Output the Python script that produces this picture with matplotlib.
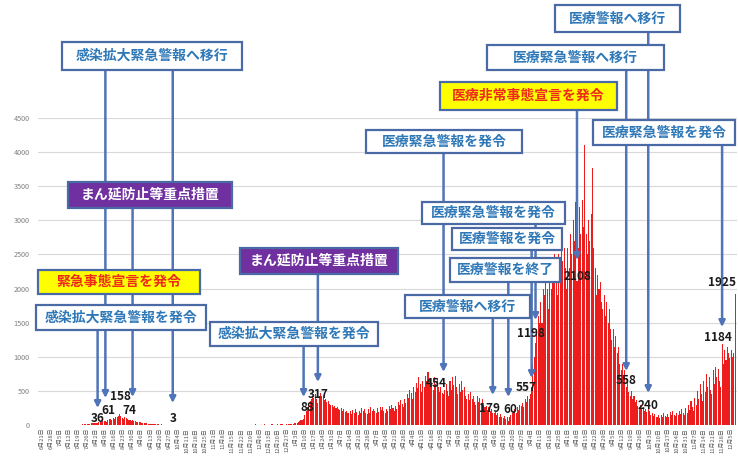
import numpy as np
import pandas as pd
import matplotlib.pyplot as plt
from matplotlib.patches import Rectangle
from matplotlib.transforms import blended_transform_factory

plt.rcParams['font.family'] = ['Noto Sans CJK JP', 'DejaVu Sans']

# daily new cases, 2020-06-21 .. 2020-12-31
cases_2020 = [
    0, 0, 1, 0, 0, 0, 0,
    0, 0, 0, 0, 0, 1, 0,
    0, 1, 0, 0, 2, 0, 1,
    0, 0, 3, 1, 2, 0, 4,
    2, 5, 3, 8, 6, 10, 12,
    15, 9, 18, 22, 25, 30, 28,
    30, 36, 45, 38, 50, 58, 55,
    61, 48, 70, 85, 95, 80, 100,
    90, 120, 110, 135, 158, 125, 105,
    95, 110, 100, 88, 80, 70, 65,
    74, 55, 60, 45, 50, 38, 40,
    30, 35, 25, 28, 22, 20, 18,
    15, 18, 12, 14, 10, 9, 8,
    7, 8, 6, 5, 6, 4, 5,
    4, 3, 5, 3, 2, 4, 3,
    2, 1, 3, 2, 0, 1, 2,
    1, 0, 2, 1, 1, 0, 3,
    2, 1, 0, 1, 2, 1, 0,
    1, 2, 1, 0, 3, 1, 2,
    0, 1, 2, 1, 0, 2, 1,
    2, 0, 1, 3, 1, 2, 0,
    1, 2, 0, 1, 2, 4, 1,
    3, 2, 5, 3, 4, 6, 2,
    4, 3, 6, 5, 8, 4, 3,
    5, 7, 4, 6, 9, 5, 4,
    6, 4, 8, 10, 7, 5, 6,
    8, 5, 9, 12, 10, 7, 6,
    9, 12, 15, 10, 14,
]

# daily new cases, 2021-01-01 .. 2021-12-08
cases_2021 = [
    18, 22,
    25, 30, 40, 55, 70, 80, 88,
    150, 210, 260, 300, 350, 380, 420,
    400, 450, 380, 317, 420, 470, 430,
    400, 360, 380, 340, 350, 310, 290,
    300, 260, 280, 250, 270, 230, 220,
    250, 200, 230, 190, 210, 180, 170,
    200, 160, 220, 180, 240, 190, 150,
    210, 170, 250, 200, 230, 180, 160,
    230, 180, 260, 210, 240, 200, 170,
    250, 190, 270, 220, 260, 210, 180,
    240, 200, 280, 230, 300, 250, 200,
    280, 240, 330, 300, 360, 310, 260,
    380, 320, 450, 400, 520, 470, 380,
    560, 480, 620, 540, 700, 600, 480,
    650, 560, 720, 640, 780, 680, 560,
    620, 520, 700, 600, 680, 560, 480,
    560, 470, 454, 520, 600, 500, 420,
    650, 520, 700, 580, 720, 560, 450,
    600, 480, 650, 520, 560, 430, 380,
    450, 360, 480, 380, 420, 330, 290,
    420, 330, 400, 320, 380, 300, 260,
    280, 220, 260, 200, 240, 179, 170,
    190, 140, 170, 120, 160, 110, 100,
    130, 90, 110, 60, 120, 150, 170,
    200, 240, 180, 260, 220, 300, 280,
    320, 260, 380, 340, 420, 380, 450,
    557, 900, 1000, 1198, 1400, 1600, 1500,
    1800, 1500, 2000, 1900, 2200, 2000, 1700,
    2300, 2000, 2400, 2200, 2500, 2100, 1900,
    2500, 2200, 2700, 2400, 2600, 2300, 2000,
    2600, 2300, 2800, 2500, 3000, 2700, 3270,
    2108, 2600, 3200, 2800, 3300, 2900, 4100,
    2800, 2500, 3000, 2700, 3100, 3770, 2600,
    2300, 1900, 2200, 2000, 2100, 1800, 1700,
    1900, 1600, 1800, 1500, 1700, 1400, 1250,
    1400, 1150, 1300, 1050, 1150, 900, 800,
    900, 700, 800, 558, 650, 480, 420,
    500, 380, 420, 330, 360, 280, 250,
    300, 230, 270, 200, 240, 190, 240,
    200, 150, 180, 130, 160, 120, 110,
    140, 100, 150, 120, 170, 130, 110,
    160, 120, 190, 140, 200, 150, 130,
    180, 140, 210, 160, 230, 170, 150,
    250, 180, 300, 220, 350, 260, 200,
    400, 300, 500, 380, 600, 450, 350,
    650, 480, 750, 550, 700, 520, 450,
    800, 600, 850, 700, 820, 650, 560,
    1184, 900, 1100, 950, 1150, 1050, 980,
    1100, 1000, 1050, 1925,
]

# announcements: date the measure took effect and its name
event_dates = ['2020-08-03', '2020-08-09', '2020-08-30', '2020-09-30',
               '2021-01-09', '2021-01-20', '2021-04-27', '2021-06-04',
               '2021-06-16', '2021-07-04', '2021-07-07', '2021-08-08',
               '2021-09-15', '2021-10-02', '2021-11-28']
event_names = ['感染拡大緊急警報を発令', '緊急事態宣言を発令', 'まん延防止等重点措置',
               '感染拡大緊急警報へ移行', '感染拡大緊急警報を発令', 'まん延防止等重点措置',
               '医療緊急警報を発令', '医療警報へ移行', '医療警報を終了', '医療警報を発令',
               '医療緊急警報を発令', '医療非常事態宣言を発令', '医療緊急警報へ移行',
               '医療警報へ移行', '医療緊急警報を発令']
# extra value labels without an arrow
peak_dates = ['2020-08-20', '2021-12-08']

cases = np.array(cases_2020 + cases_2021)
dates = pd.date_range('2020-06-21', periods=len(cases), freq='D')
days = np.arange(len(cases))

W, H = 738, 469


def fx(px):
    return px / W


def fy(py):
    return 1 - py / H


fig = plt.figure(figsize=(W / 100, H / 100), dpi=100)
ax = fig.add_axes([fx(38), fy(425), fx(737) - fx(38), fy(118) - fy(425)])

ax.bar(days, cases, width=0.8, color='#ee1d1d', linewidth=0, zorder=2)

ax.set_xlim(-3, 536.5)
ax.set_ylim(0, 4500)
ax.set_yticks(np.arange(0, 4501, 500))
ax.grid(axis='y', color='#d9d9d9', linewidth=0.8, zorder=0)
ax.set_axisbelow(True)
for s in ax.spines.values():
    s.set_visible(False)

week_idx = days[::7]
ax.set_xticks(week_idx)
ax.set_xticklabels([f'{d.month}月{d.day}日' for d in dates[week_idx]],
                   rotation=90, fontsize=4.2, color='#595959')
ax.tick_params(axis='x', length=0, pad=2)
ax.tick_params(axis='y', length=0, pad=6, labelsize=5.2, labelcolor='#7f7f7f')

# box rectangle (x0, y0, x1, y1 in pixels), style, line top y, arrow tip y,
# label dx, label y
box_layout = [
    (36, 305, 206, 330, 'plain', 330, 408, 0, 418),
    (38, 270, 200, 294, 'yellow', 70, 398, 3, 410),
    (68, 182, 232, 208, 'purple', 208, 397, -3, 410),
    (62, 42, 242, 70, 'plain', 70, 403, 0, 418),
    (210, 322, 378, 346, 'plain', 346, 397, 4, 407),
    (240, 248, 398, 274, 'purple', 274, 382, 0, 394),
    (366, 130, 522, 153, 'plain', 153, 372, -7, 383),
    (405, 295, 530, 318, 'plain', 318, 395, -3, 408),
    (450, 258, 560, 282, 'plain', 282, 397, 2, 409),
    (452, 228, 562, 250, 'plain', 250, 378, -5, 387),
    (422, 202, 565, 224, 'plain', 224, 320, -5, 333),
    (440, 82, 617, 110, 'yellow', 110, 260, 0, 276),
    (487, 45, 664, 70, 'plain', 70, 371, 0, 380),
    (555, 5, 680, 32, 'plain', 32, 393, 0, 405),
    (593, 120, 735, 145, 'plain', 145, 327, -4, 337),
]
peak_layout = [(1, 396), (-13, 283)]

styles = {
    'plain': dict(fc='white', tc='#2f78b8'),
    'yellow': dict(fc='#ffff00', tc='#ee2a1a'),
    'purple': dict(fc='#7030a0', tc='white'),
}
line_c = '#4f74b8'
blend = blended_transform_factory(ax.transData, fig.transFigure)
num_font = dict(fontsize=8.5, fontweight='bold', color='#1a1a1a',
                ha='center', va='center', zorder=6, annotation_clip=False)

for date, name, lay in zip(event_dates, event_names, box_layout):
    x0, y0, x1, y1, st, top, tip, ldx, ly = lay
    d = dates.get_loc(pd.Timestamp(date))
    ax.annotate('', xy=(d, fy(tip)), xycoords=blend,
                xytext=(d, fy(top - 2)), textcoords=blend,
                arrowprops=dict(arrowstyle='-|>', color=line_c, lw=1.8,
                                mutation_scale=9, shrinkA=0, shrinkB=0),
                annotation_clip=False, zorder=4)
    ax.annotate(str(cases[d]), xy=(d, fy(ly)), xycoords=blend,
                xytext=(ldx, 0), textcoords='offset pixels', **num_font)
    s = styles[st]
    fig.add_artist(Rectangle((fx(x0), fy(y1)), fx(x1) - fx(x0), fy(y0) - fy(y1),
                             transform=fig.transFigure, facecolor=s['fc'],
                             edgecolor='#4a6aa5', linewidth=1.6, zorder=5))
    fig.text(fx((x0 + x1) / 2), fy((y0 + y1) / 2), name, ha='center', va='center',
             fontsize=10, fontweight='bold', color=s['tc'], zorder=6)

for date, (ldx, ly) in zip(peak_dates, peak_layout):
    d = dates.get_loc(pd.Timestamp(date))
    ax.annotate(str(cases[d]), xy=(d, fy(ly)), xycoords=blend,
                xytext=(ldx, 0), textcoords='offset pixels', **num_font)

fig.savefig('out.png', dpi=100)
